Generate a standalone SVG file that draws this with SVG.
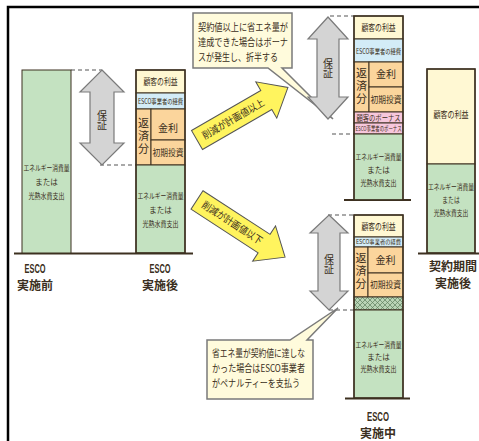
<svg xmlns="http://www.w3.org/2000/svg" width="479" height="441" viewBox="0 0 479 441">
<defs>
<style>
.jp{font-family:"Noto Sans CJK JP","Noto Sans",sans-serif;fill:#3a2e20;text-anchor:middle}
.cap{font-family:"Liberation Sans","Noto Sans CJK JP",sans-serif;fill:#3a2e20;text-anchor:middle;font-weight:bold}
.capj{font-family:"Noto Sans CJK JP",sans-serif;fill:#3a2e20;text-anchor:middle;font-weight:bold}
.vert{font-family:"Noto Sans CJK JP",sans-serif;fill:#3a2e20;writing-mode:vertical-rl;text-anchor:middle}
.seg{stroke:#3d3020;stroke-width:1}
.y{fill:#FFF8D3}.b{fill:#D3ECF7}.o{fill:#FBD59C}.g{fill:#C4E2C1}.p{fill:#F7C7DC}
.base{stroke:#3d3020;stroke-width:2.2}
.dash{stroke:#555;stroke-width:1.2;stroke-dasharray:4 3;fill:none}
.garrow{fill:#D4D4D4;stroke:#7a7a7a;stroke-width:1.2}
.yarrow{fill:#FFF45E;stroke:#555;stroke-width:1}
.callout{fill:#FFFBDC;stroke:#7a7a7a;stroke-width:1.5}
</style>
<pattern id="hatch" width="5" height="5" patternUnits="userSpaceOnUse">
<rect width="5" height="5" fill="#B9D4B6"/>
<path d="M0,5 L5,0 M0,0 L5,5" stroke="#5f7f5f" stroke-width="0.7"/>
</pattern>
</defs>
<rect width="479" height="441" fill="#fff"/>
<path d="M8,441 V7 H479" fill="none" stroke="#000" stroke-width="2.5"/>

<g id="connectors">
<line class="base" x1="14" y1="253.5" x2="193" y2="253.5"/>
<line class="base" x1="344" y1="200" x2="411" y2="200"/>
<line class="base" x1="345" y1="398.5" x2="410" y2="398.5"/>
<line class="base" x1="418" y1="253.5" x2="479" y2="253.5"/>
<path class="dash" d="M71,70 H102 M100,165 H136 M330,16 H354 M332,134 H354 M328,215 H354 M329,310 H354"/>
</g>

<g id="col-before">
<rect class="seg g" x="22" y="70" width="49" height="183"/>
<text class="jp" font-size="7.5"><tspan x="46.5" y="171" textLength="46" lengthAdjust="spacingAndGlyphs">エネルギー消費量</tspan><tspan x="46.5" y="185">または</tspan><tspan x="46.5" y="199" textLength="36" lengthAdjust="spacingAndGlyphs">光熱水費支出</tspan></text>
<text class="cap" font-size="12" x="35" y="273" textLength="21" lengthAdjust="spacingAndGlyphs">ESCO</text>
<text class="capj" font-size="12" x="35" y="290">実施前</text>
</g>

<g id="guarantee-1">
<path class="garrow" d="M102,70 L124,92 L114,92 L114,143 L124,143 L102,165 L80,143 L90,143 L90,92 L80,92 Z"/>
<text class="vert" font-size="10" x="102" y="120">保証</text>
</g>

<g id="col-after">
<rect class="seg y" x="136" y="70" width="49" height="23"/>
<rect class="seg b" x="136" y="93" width="49" height="16"/>
<rect class="seg o" x="136" y="109" width="15" height="56"/>
<rect class="seg o" x="151" y="109" width="34" height="31"/>
<rect class="seg o" x="151" y="140" width="34" height="25"/>
<rect class="seg g" x="136" y="165" width="49" height="88"/>
<rect x="136" y="70" width="49" height="183" fill="none" stroke="#3d3020" stroke-width="1.5"/>
<text class="jp" font-size="9.5" x="160.5" y="85" textLength="34" lengthAdjust="spacingAndGlyphs">顧客の利益</text>
<text class="jp" font-size="7" x="160.5" y="104" textLength="45" lengthAdjust="spacingAndGlyphs">ESCO事業者の経費</text>
<text class="vert" font-size="11" x="143.5" y="137" letter-spacing="2">返済分</text>
<text class="jp" font-size="10" x="168" y="131.5">金利</text>
<text class="jp" font-size="9" x="168" y="156" textLength="31" lengthAdjust="spacingAndGlyphs">初期投資</text>
<text class="jp" font-size="7.5"><tspan x="160.5" y="199" textLength="46" lengthAdjust="spacingAndGlyphs">エネルギー消費量</tspan><tspan x="160.5" y="213">または</tspan><tspan x="160.5" y="227" textLength="36" lengthAdjust="spacingAndGlyphs">光熱水費支出</tspan></text>
<text class="cap" font-size="12" x="160" y="273" textLength="21" lengthAdjust="spacingAndGlyphs">ESCO</text>
<text class="capj" font-size="12" x="160" y="290">実施後</text>
</g>

<g id="arrow-above">
<g transform="translate(197,140) rotate(-30)">
<path class="yarrow" d="M0,-11 L80,-11 L80,-21 L105,0 L80,21 L80,11 L0,11 Z"/>
<text class="jp" font-size="10" x="42" y="3.5" textLength="70" lengthAdjust="spacingAndGlyphs">削減が計画値以上</text>
</g>
</g>

<g id="arrow-below">
<g transform="translate(197,200) rotate(33)">
<path class="yarrow" d="M0,-11 L80,-11 L80,-21 L105,0 L80,21 L80,11 L0,11 Z"/>
<text class="jp" font-size="10" x="42" y="3.5" textLength="70" lengthAdjust="spacingAndGlyphs">削減が計画値以下</text>
</g>
</g>

<g id="callout-bonus">
<path class="callout" d="M193,13 H292 V68 H282 L333,119 L268,68 H193 Z"/>
<text class="jp" font-size="10" style="text-anchor:start"><tspan x="198" y="31" textLength="90" lengthAdjust="spacingAndGlyphs">契約値以上に省エネ量が</tspan><tspan x="198" y="46" textLength="90" lengthAdjust="spacingAndGlyphs">達成できた場合はボーナ</tspan><tspan x="198" y="61" textLength="80" lengthAdjust="spacingAndGlyphs">スが発生し、折半する</tspan></text>
</g>

<g id="guarantee-2">
<path class="garrow" d="M328,17 L348,39 L339,39 L339,97 L348,97 L328,119 L308,97 L317,97 L317,39 L308,39 Z"/>
<text class="vert" font-size="10" x="328" y="68">保証</text>
</g>

<g id="col-success">
<rect class="seg y" x="354" y="16" width="49" height="23"/>
<rect class="seg b" x="354" y="39" width="49" height="23"/>
<rect class="seg o" x="354" y="62" width="15" height="50"/>
<rect class="seg o" x="369" y="62" width="34" height="25"/>
<rect class="seg o" x="369" y="87" width="34" height="25"/>
<rect class="seg p" x="354" y="112" width="49" height="11"/>
<rect class="seg p" x="354" y="123" width="49" height="11"/>
<rect class="seg g" x="354" y="134" width="49" height="66"/>
<rect x="354" y="16" width="49" height="184" fill="none" stroke="#3d3020" stroke-width="1.5"/>
<text class="jp" font-size="9.5" x="378.5" y="31" textLength="34" lengthAdjust="spacingAndGlyphs">顧客の利益</text>
<text class="jp" font-size="7" x="378.5" y="54" textLength="45" lengthAdjust="spacingAndGlyphs">ESCO事業者の経費</text>
<text class="vert" font-size="11" x="361.5" y="87" letter-spacing="2">返済分</text>
<text class="jp" font-size="10" x="386" y="78">金利</text>
<text class="jp" font-size="9" x="386" y="103" textLength="31" lengthAdjust="spacingAndGlyphs">初期投資</text>
<text class="jp" font-size="7.5" x="378.5" y="120.5" textLength="44" lengthAdjust="spacingAndGlyphs">顧客のボーナス</text>
<text class="jp" font-size="6.5" x="378.5" y="131" textLength="46" lengthAdjust="spacingAndGlyphs">ESCO事業者のボーナス</text>
<text class="jp" font-size="7.5"><tspan x="378.5" y="160" textLength="46" lengthAdjust="spacingAndGlyphs">エネルギー消費量</tspan><tspan x="378.5" y="173">または</tspan><tspan x="378.5" y="186" textLength="36" lengthAdjust="spacingAndGlyphs">光熱水費支出</tspan></text>
</g>

<g id="callout-penalty">
<path class="callout" d="M207,340 H290 L338,308 L307,340 H313 V399 H207 Z"/>
<text class="jp" font-size="10" style="text-anchor:start"><tspan x="212" y="357" textLength="93" lengthAdjust="spacingAndGlyphs">省エネ量が契約値に達しな</tspan><tspan x="212" y="372" textLength="93" lengthAdjust="spacingAndGlyphs">かった場合はESCO事業者</tspan><tspan x="212" y="387" textLength="88" lengthAdjust="spacingAndGlyphs">がペナルティーを支払う</tspan></text>
</g>

<g id="guarantee-3">
<path class="garrow" d="M329,215 L348,233 L340,233 L340,291 L348,291 L329,310 L310,291 L318,291 L318,233 L310,233 Z"/>
<text class="vert" font-size="10" x="329" y="264">保証</text>
</g>

<g id="col-during">
<rect class="seg y" x="354" y="215" width="49" height="22"/>
<rect class="seg b" x="354" y="237" width="49" height="10"/>
<rect class="seg o" x="354" y="247" width="14" height="50"/>
<rect class="seg o" x="368" y="247" width="35" height="26"/>
<rect class="seg o" x="368" y="273" width="35" height="24"/>
<rect class="seg" x="354" y="297" width="49" height="13" fill="url(#hatch)"/>
<rect class="seg g" x="354" y="310" width="49" height="88"/>
<rect x="354" y="215" width="49" height="183" fill="none" stroke="#3d3020" stroke-width="1.5"/>
<text class="jp" font-size="9.5" x="378.5" y="229.5" textLength="34" lengthAdjust="spacingAndGlyphs">顧客の利益</text>
<text class="jp" font-size="5.5" x="378.5" y="244" textLength="45" lengthAdjust="spacingAndGlyphs">ESCO事業者の経費</text>
<text class="vert" font-size="11" x="361" y="272" letter-spacing="2">返済分</text>
<text class="jp" font-size="10" x="385.5" y="263.5">金利</text>
<text class="jp" font-size="9" x="385.5" y="288" textLength="31" lengthAdjust="spacingAndGlyphs">初期投資</text>
<text class="jp" font-size="7.5"><tspan x="378.5" y="348" textLength="46" lengthAdjust="spacingAndGlyphs">エネルギー消費量</tspan><tspan x="378.5" y="360">または</tspan><tspan x="378.5" y="372" textLength="36" lengthAdjust="spacingAndGlyphs">光熱水費支出</tspan></text>
<text class="cap" font-size="12" x="378" y="421" textLength="22" lengthAdjust="spacingAndGlyphs">ESCO</text>
<text class="capj" font-size="12" x="378" y="438">実施中</text>
</g>

<g id="col-contract-end">
<rect class="seg y" x="427" y="69" width="48" height="95"/>
<rect class="seg g" x="427" y="164" width="48" height="89"/>
<rect x="427" y="69" width="48" height="184" fill="none" stroke="#3d3020" stroke-width="1.5"/>
<g transform="translate(451,0) scale(0.74,1)">
<text class="jp" font-size="9.5" x="0" y="118">顧客の利益</text>
</g>
<g transform="translate(451,0) scale(0.77,1)">
<text class="jp" font-size="7.5"><tspan x="0" y="190">エネルギー消費量</tspan><tspan x="0" y="203">または</tspan><tspan x="0" y="216">光熱水費支出</tspan></text>
</g>
<text class="capj" font-size="12" x="453" y="271">契約期間</text>
<text class="capj" font-size="12" x="453" y="288">実施後</text>
</g>
</svg>
